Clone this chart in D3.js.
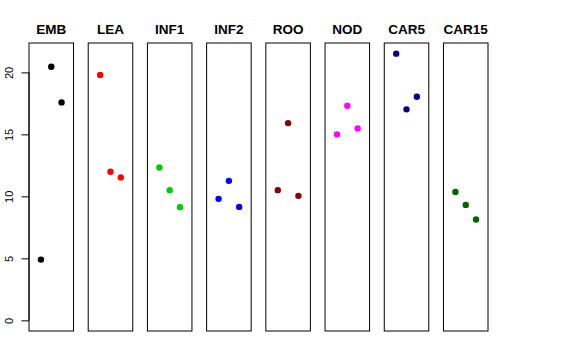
<!DOCTYPE html>
<html>
<head>
<meta charset="utf-8">
<script src="https://cdn.jsdelivr.net/npm/d3@7"></script>
<style>
  html, body { margin: 0; padding: 0; background: #fff; }
  svg { display: block; }
</style>
</head>
<body>
<svg id="chart" width="576" height="360"></svg>
<script>
const categories = ["EMB", "LEA", "INF1", "INF2", "ROO", "NOD", "CAR5", "CAR15"];
const colors = ["#000000", "#ff0000", "#00cd00", "#0000ff", "#8b0000", "#ff00ff", "#000080", "#006400"];
const EMB = [4.9, 20.46, 17.58];
const LEA = [19.79, 11.98, 11.53];
const INF1 = [12.33, 10.5, 9.13];
const INF2 = [9.8, 11.25, 9.15];
const ROO = [10.5, 15.91, 10.04];
const NOD = [15.0, 17.31, 15.48];
const CAR5 = [21.51, 17.02, 18.04];
const CAR15 = [10.36, 9.31, 8.13];
const series = [EMB, LEA, INF1, INF2, ROO, NOD, CAR5, CAR15];
const yTicks = [0, 5, 10, 15, 20];

(function () {
const svg = d3.select("#chart");
const plotTop = 43, plotBottom = 331;
const yMax = d3.max(series.flat());
const ext = (yMax - 0) * 0.04;
const y = d3.scaleLinear().domain([0 - ext, yMax + ext]).range([plotBottom, plotTop]);

const band = d3.scaleBand().domain(categories).range([29, 488]).paddingInner(0.248).paddingOuter(0);

categories.forEach((cat, i) => {
  const left = band(cat);
  const w = band.bandwidth();
  const x = d3.scaleLinear().domain([-0.16, 4.16]).range([left, left + w]);
  const g = svg.append("g");
  g.append("rect")
    .attr("x", left).attr("y", plotTop)
    .attr("width", w).attr("height", plotBottom - plotTop)
    .attr("fill", "none").attr("stroke", "#000").attr("stroke-width", 1);
  g.selectAll("circle").data(series[i]).join("circle")
    .attr("cx", (d, j) => x(j + 1))
    .attr("cy", d => y(d))
    .attr("r", 3.2)
    .attr("fill", colors[i]);
  g.append("text")
    .attr("x", left + w / 2).attr("y", 34)
    .attr("text-anchor", "middle")
    .attr("font-family", "Liberation Sans, Arial, sans-serif")
    .attr("font-weight", "bold")
    .attr("font-size", "13.5px")
    .text(cat);
});

// y axis
const axisX = 29;
const axis = d3.axisLeft(y).tickValues(yTicks).tickSize(7.5).tickPadding(3);
const ag = svg.append("g").attr("transform", `translate(${axisX},0)`).call(axis);
ag.select(".domain").remove();
ag.append("line")
  .attr("x1", 0).attr("x2", 0)
  .attr("y1", y(yTicks[0])).attr("y2", y(yTicks[yTicks.length - 1]))
  .attr("stroke", "#000");
ag.selectAll(".tick line").attr("stroke", "#000");
ag.selectAll(".tick text")
  .attr("font-family", "Liberation Sans, Arial, sans-serif")
  .attr("font-size", "11px")
  .attr("fill", "#000")
  .attr("x", null).attr("dy", null)
  .attr("text-anchor", "middle")
  .attr("transform", "translate(-15.7,0) rotate(-90)");
})();
</script>
</body>
</html>
